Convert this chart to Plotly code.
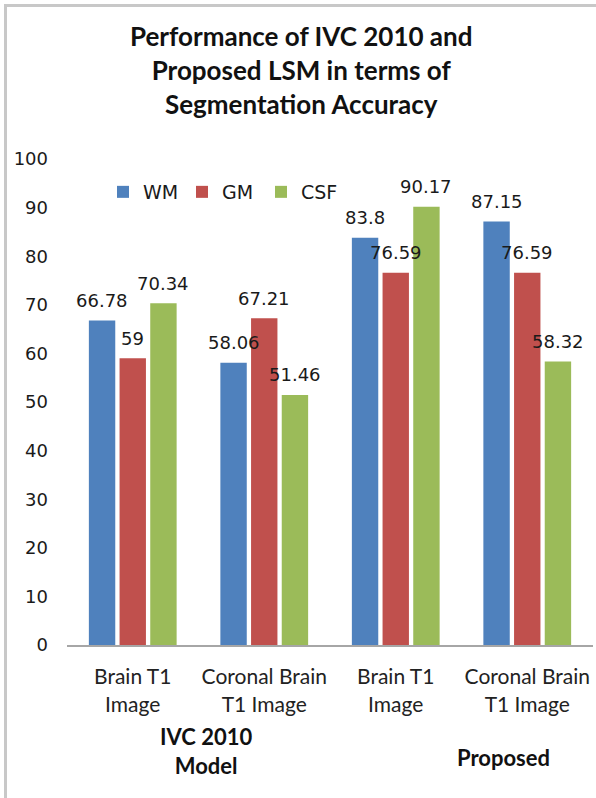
import plotly.graph_objects as go

# ---- data ----
categories = [0, 1, 2, 3]
tick_labels = ["Brain T1<br>Image", "Coronal Brain<br>T1 Image", "Brain T1<br>Image", "Coronal Brain<br>T1 Image"]
series_names = ["WM", "GM", "CSF"]
wm = [66.78, 58.06, 83.8, 87.15]
gm = [59, 67.21, 76.59, 76.59]
csf = [70.34, 51.46, 90.17, 58.32]
group_labels = ["IVC 2010<br>Model", "Proposed"]
title_text = "Performance of IVC 2010 and<br>Proposed LSM in terms of<br>Segmentation Accuracy"
y_ticks = [0, 10, 20, 30, 40, 50, 60, 70, 80, 90, 100]

colors = ["#4F81BD", "#C0504D", "#9BBB59"]

W, H = 596, 798
L, R, T, B = 67, 3, 159, 153
PW, PH = W - L - R, H - T - B


def px_x(p):
    return (p - L) / PW


def px_y(p):
    return (H - B - p) / PH


fig = go.Figure()
for name, vals, col in zip(series_names, [wm, gm, csf], colors):
    fig.add_trace(go.Bar(x=categories, y=vals, name=name, marker=dict(color=col, line=dict(width=0))))

annotations = []
bargap, groupgap = 0.30, 0.14
slot = PW / 4 * (1 - bargap) / 3
for i, vals in enumerate([wm, gm, csf]):
    for c, v in zip(categories, vals):
        annotations.append(dict(
            x=c, y=v, xref="x", yref="y", text=str(v), showarrow=False,
            xshift=(i - 1) * slot, yshift=20, yanchor="middle",
            font=dict(family="DejaVu Sans", size=18, color="#1a1a1a")))

annotations.append(dict(x=px_x(206), y=px_y(751), xref="paper", yref="paper", text="<b>" + group_labels[0] + "</b>",
                        showarrow=False, xanchor="center", yanchor="middle",
                        font=dict(family="Lato", size=22, color="#111111")))
annotations.append(dict(x=px_x(503), y=px_y(757), xref="paper", yref="paper", text="<b>" + group_labels[1] + "</b>",
                        showarrow=False, xanchor="center", yanchor="middle",
                        font=dict(family="Lato", size=22, color="#111111")))
annotations.append(dict(x=px_x(301), y=px_y(70), xref="paper", yref="paper", text="<b>" + title_text + "</b>",
                        showarrow=False, xanchor="center", yanchor="middle",
                        font=dict(family="Lato", size=26, color="#111111")))

fig.update_layout(
    width=W, height=H,
    margin=dict(l=L, r=R, t=T, b=B, pad=0),
    paper_bgcolor="white", plot_bgcolor="white",
    barmode="group", bargap=bargap, bargroupgap=groupgap,
    showlegend=True,
    legend=dict(orientation="h", x=px_x(103), y=px_y(192), xanchor="left", yanchor="middle",
                font=dict(family="DejaVu Sans", size=19, color="#1a1a1a"), bgcolor="rgba(0,0,0,0)",
                traceorder="normal", entrywidth=34, entrywidthmode="pixels"),
    annotations=annotations,
    shapes=[dict(type="rect", xref="paper", yref="paper", x0=px_x(5.5), y0=px_y(900), x1=px_x(800), y1=px_y(5.5),
                 line=dict(color="#c8c8c8", width=3), fillcolor="rgba(0,0,0,0)", layer="below")],
    xaxis=dict(tickmode="array", tickvals=categories, ticktext=tick_labels, range=[-0.5, 3.5],
               showgrid=False, zeroline=False, showline=True, linecolor="#a6a6a6", linewidth=2,
               ticks="", tickfont=dict(family="Lato", size=21, color="#222222"), ticklabelstandoff=12),
    yaxis=dict(range=[0, 100], tickmode="array", tickvals=y_ticks, showgrid=False, zeroline=False,
               showline=False, ticks="", tickfont=dict(family="DejaVu Sans", size=18, color="#1a1a1a"),
               ticklabelstandoff=18),
)

fig.write_html("out.html", config={"displayModeBar": False},
               post_script="document.body.style.margin='0';document.body.style.overflow='hidden';")
